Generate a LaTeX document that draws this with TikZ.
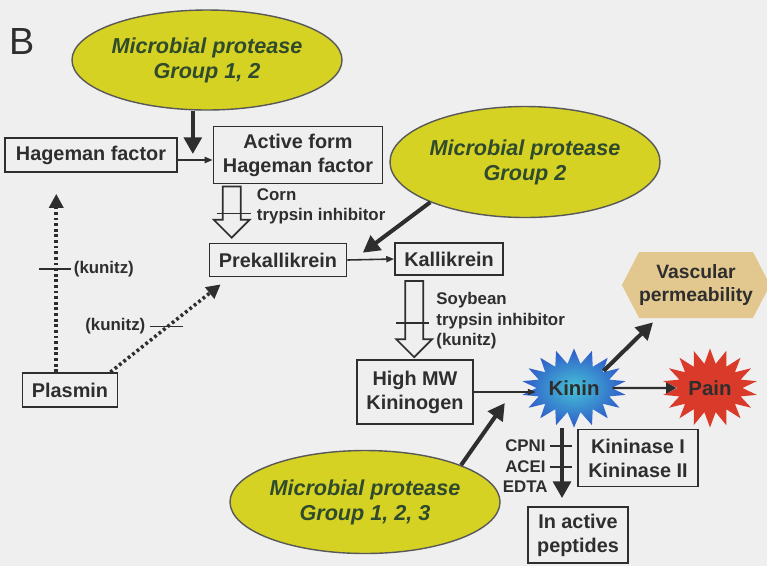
\documentclass[tikz,border=0pt]{standalone}
\usepackage{fontspec}
\setmainfont{Liberation Sans}
\usetikzlibrary{arrows.meta,calc,positioning,shapes.geometric,shapes.symbols}

\definecolor{paper}{HTML}{EFEFEF}
\definecolor{ink}{HTML}{2E2E2E}
\definecolor{proteaseyellow}{HTML}{D6D224}
\definecolor{proteaseink}{HTML}{2F4A2C}
\definecolor{vasctan}{HTML}{E2C88E}
\definecolor{kininblue}{HTML}{2F5BC9}
\definecolor{kinincyan}{HTML}{45C2D6}
\definecolor{painred}{HTML}{DA3A2A}

\tikzset{
  factor/.style={draw=ink, line width=1pt, text=ink, align=center, inner sep=0pt,
    font=\bfseries\fontsize{11.3}{13.6}\selectfont},
  protease/.style={ellipse, draw=ink!80, line width=0.8pt, fill=proteaseyellow,
    text=proteaseink, align=center, inner sep=0pt,
    font=\bfseries\itshape\fontsize{12.3}{14.2}\selectfont},
  effect/.style={starburst, starburst points=18, starburst point height=0.3cm,
    random starburst=0, inner sep=0pt, text=ink,
    font=\bfseries\fontsize{11.6}{14}\selectfont},
  note/.style={text=ink, align=left, inner sep=0pt,
    font=\bfseries\fontsize{9.6}{11.8}\selectfont},
  bigarrow/.style={draw=ink, line width=2.3pt, -{Triangle[length=9.5pt,width=10pt]}},
  midarrow/.style={draw=ink, line width=1.4pt, -{Triangle[length=6pt,width=6pt]}},
  thinarrow/.style={draw=ink, line width=0.9pt, -{Triangle[length=4.5pt,width=3.5pt]}},
  dotarrow/.style={draw=ink, line width=2pt, dash pattern=on 1.6pt off 1.6pt,
    -{Triangle[length=8pt,width=8pt]}},
  inhib/.style={draw=ink, line width=1pt},
  hollowarr/.style={draw=ink, line width=1pt, fill=paper, line join=miter},
}

% hollow arrow pointing down: #1 top of shaft, #2 tip (same x)
\newcommand{\hollowdown}[2]{%
  \draw[hollowarr] ($(#1)+(-9,0)$) -- ($(#2)+(-9,-18)$) -- ($(#2)+(-18,-18)$)
    -- (#2) -- ($(#2)+(18,-18)$) -- ($(#2)+(9,-18)$) -- ($(#1)+(9,0)$) -- cycle;}

\begin{document}
\begin{tikzpicture}[x=0.02cm, y=-0.02cm]
  \fill[paper] (0,0) rectangle (767,566);
  \useasboundingbox (0,0) rectangle (767,566);

  \node[text=ink, inner sep=0pt, font=\fontsize{21.5}{24}\selectfont] (panel) at (22,41) {B};

  % proteases
  \node[protease, minimum width=4.94cm, minimum height=2cm] (pg12) at (207,60) {Microbial protease\\Group 1, 2};
  \node[protease, minimum width=4.9cm, minimum height=2.22cm] (pg2) at (525,162) {Microbial protease\\Group 2};
  \node[protease, minimum width=5cm, minimum height=2.06cm] (pg123) at (365,502) {Microbial protease\\Group 1, 2, 3};

  % cascade
  \node[factor, minimum width=3.44cm, minimum height=0.68cm] (hf) at (91,155) {Hageman factor};
  \node[factor, minimum width=3.38cm, minimum height=1.14cm] (ahf) at (298,155) {Active form\\Hageman factor};
  \node[factor, minimum width=2.74cm, minimum height=0.66cm] (prek) at (278,260) {Prekallikrein};
  \node[factor, minimum width=2.16cm, minimum height=0.64cm] (kal) at (449,259) {Kallikrein};
  \node[factor, minimum width=1.9cm, minimum height=0.68cm] (plasmin) at (70,390) {Plasmin};
  \node[factor, minimum width=2.32cm, minimum height=1.28cm] (hmw) at (415,392) {High MW\\Kininogen};
  \node[factor, minimum width=2.4cm, minimum height=1.14cm] (kinase) at (638,458) {Kininase I\\Kininase II};
  \node[factor, minimum width=2cm, minimum height=1.12cm] (inact) at (578,535) {In active\\peptides};

  % effects
  \node[effect, shade, inner color=kinincyan, outer color=kininblue,
    minimum width=2.1cm, minimum height=1.58cm] (kinin) at (574,388) {Kinin};
  \node[effect, fill=painred, minimum width=1.9cm, minimum height=1.58cm] (pain) at (710,388) {Pain};
  \node[signal, signal to=east and west, signal pointer angle=125, fill=vasctan,
    text=ink, align=center, inner sep=0pt, font=\bfseries\fontsize{11}{13.6}\selectfont,
    minimum width=2.84cm, minimum height=1.32cm] (vasc) at (696,285) {Vascular\\permeability};

  % Hageman activation
  \draw[thinarrow] ([yshift=-0.1cm]hf.east) -- ([yshift=-0.1cm]ahf.west);
  \coordinate (hfhit) at ($(hf.east)!0.43!(ahf.west)+(0,5)$);
  \draw[bigarrow] (pg12.south -| hfhit) -- ($(hfhit)+(0,-6)$);

  % plasmin routes
  \coordinate (ptip) at ($(hf.south west)!0.3!(hf.south east)+(0,21)$);
  \draw[dotarrow] (plasmin.north -| ptip) -- coordinate[pos=0.58] (kun1) (ptip);
  \draw[inhib] ($(kun1)+(-17,0)$) -- ($(kun1)+(15,0)$) node[note, right=1pt] {(kunitz)};
  \coordinate (ptip2) at ($(prek.south west)+(12,7)$);
  \draw[dotarrow] ($(plasmin.north east)+(-8,0)$) -- coordinate[pos=0.52] (kun2) (ptip2);
  \draw[inhib] ($(kun2)+(-18,0)$) node[note, left=2pt] {(kunitz)} -- ($(kun2)+(15,0)$);

  % corn inhibitor
  \coordinate (corntop) at ($(ahf.south west)+(19,2)$);
  \coordinate (corntip) at ($(corntop |- prek.north)+(0,-5)$);
  \hollowdown{corntop}{corntip}
  \coordinate (cornbar) at ($(corntop)!0.53!(corntip)$);
  \draw[inhib] ($(cornbar)+(-15,0)$) -- ($(cornbar)+(19,0)$);
  \node[note, anchor=west] (corn) at ($(corntop)+(25,20)$) {Corn\\trypsin inhibitor};

  % kallikrein
  \draw[thinarrow] (prek.east) -- (kal.west);
  \coordinate (prekhit) at ($(prek.east)!0.33!(kal.west)+(0,-7)$);
  \draw[bigarrow] (pg2.203) -- (prekhit);

  % soybean inhibitor
  \coordinate (soytop) at ($(kal.south west)+(20,5)$);
  \coordinate (soytip) at ($(soytop |- hmw.north)+(0,-2)$);
  \hollowdown{soytop}{soytip}
  \coordinate (soybar) at ($(soytop)!0.55!(soytip)$);
  \draw[inhib] ($(soybar)+(-18,0)$) -- ($(soybar)+(15,0)$);
  \node[note, anchor=west] (soy) at ($(soytop)+(22,40)$) {Soybean\\trypsin inhibitor\\(kunitz)};

  % kinin release
  \draw[thinarrow] (hmw.east) -- (hmw.east -| kinin.west);
  \coordinate (kinhit) at ($(hmw.east)!0.5!(hmw.east -| kinin.west)+(0,11)$);
  \draw[bigarrow] (pg123.21) -- (kinhit);
  \draw[midarrow] (kinin.east) -- (pain.west);
  \draw[bigarrow] (kinin.30) -- ($(vasc.south)+(-43,4)$);

  % degradation
  \coordinate (deg) at ($(inact.north)+(-16,-8)$);
  \draw[bigarrow] (kinin.south -| deg) -- coordinate[pos=0.25] (cpni)
    coordinate[pos=0.55] (acei) coordinate[pos=0.84] (edta) (deg);
  \draw[inhib] ($(cpni)+(-12,0)$) node[note, left=2pt] {CPNI} -- ($(cpni)+(10,0)$);
  \draw[inhib] ($(acei)+(-12,0)$) node[note, left=2pt] {ACEI} -- ($(acei)+(10,0)$);
  \node[note, left=0.28cm of edta] (edtalabel) {EDTA};
\end{tikzpicture}
\end{document}
